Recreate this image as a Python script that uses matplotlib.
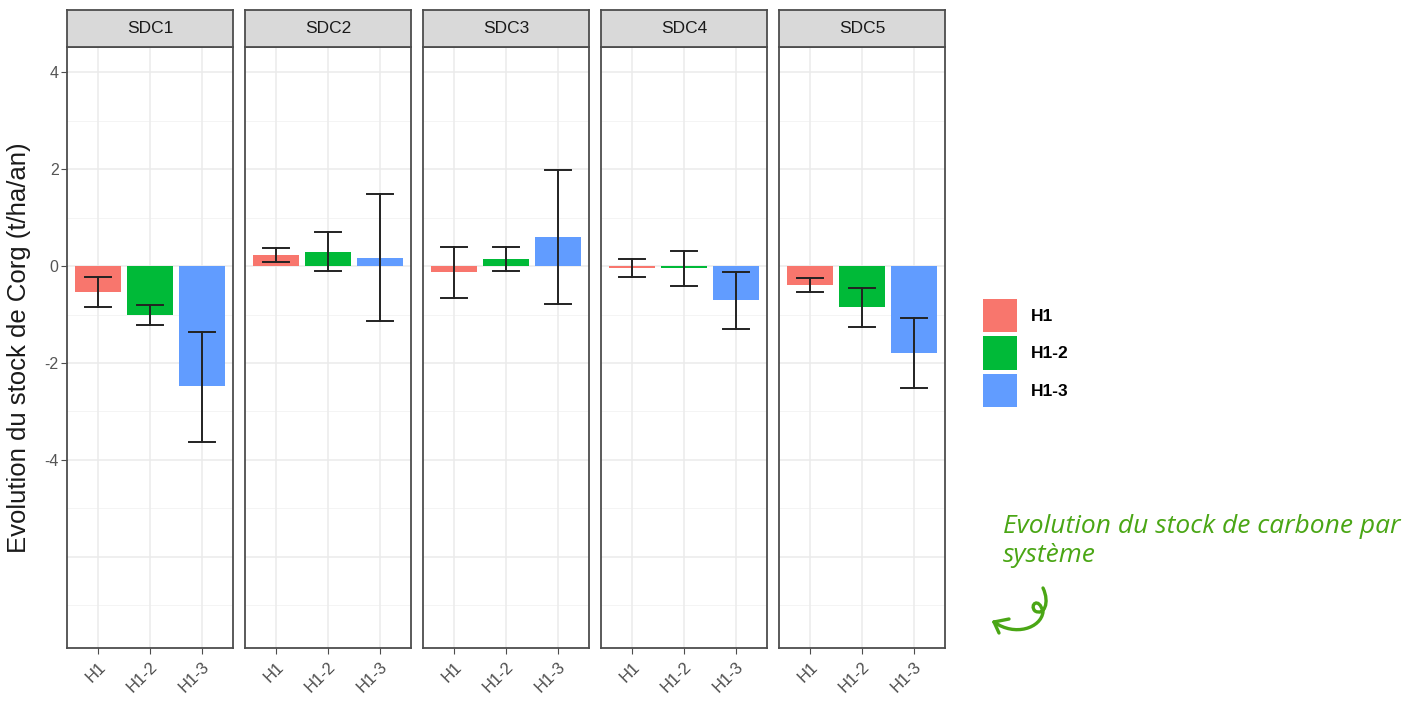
import matplotlib
matplotlib.use('Agg')
import matplotlib.pyplot as plt
from matplotlib.patches import Patch
from matplotlib.path import Path
import matplotlib.patches as mpatches

plt.rcParams['font.family'] = ['Liberation Sans', 'DejaVu Sans']
plt.rcParams['axes.unicode_minus'] = False

# donnees
systemes = ['SDC1', 'SDC2', 'SDC3', 'SDC4', 'SDC5']
horizons = ['H1', 'H1-2', 'H1-3']
couleurs = ['#F8766D', '#00BA38', '#619CFF']

moyennes = [
    [-0.53, -1.00, -2.48],
    [0.22, 0.29, 0.16],
    [-0.13, 0.14, 0.60],
    [-0.05, -0.04, -0.71],
    [-0.39, -0.84, -1.80],
]
err_haut = [
    [-0.22, -0.80, -1.35],
    [0.37, 0.70, 1.49],
    [0.39, 0.39, 1.99],
    [0.14, 0.31, -0.12],
    [-0.25, -0.45, -1.07],
]
err_bas = [
    [-0.84, -1.21, -3.62],
    [0.09, -0.10, -1.14],
    [-0.65, -0.10, -0.78],
    [-0.22, -0.41, -1.29],
    [-0.54, -1.25, -2.52],
]

W, H = 1421, 702
fig = plt.figure(figsize=(W / 100, H / 100), dpi=100)

def fx(px):
    return px / W

def fy(py):
    return 1 - py / H

panel_x = [67, 245, 423, 601, 779]
pw = 166
ptop, pbot = 47, 648
stop = 10

gris_bord = '#4d4d4d'
pos = [1, 2, 3]

for k, sdc in enumerate(systemes):
    ax = fig.add_axes([fx(panel_x[k]), fy(pbot), pw / W, (pbot - ptop) / H])
    ax.set_xlim(0.4, 3.6)
    ax.set_ylim(-7.88, 4.52)
    # grille facon ggplot
    for yy in [4, 2, 0, -2, -4, -6]:
        ax.axhline(yy, color='#ebebeb', lw=1.1, zorder=0)
    for yy in [3, 1, -1, -3, -5, -7]:
        ax.axhline(yy, color='#f3f3f3', lw=0.6, zorder=0)
    for xx in pos:
        ax.axvline(xx, color='#ebebeb', lw=1.1, zorder=0)
    ax.bar(pos, moyennes[k], width=0.9, color=couleurs, zorder=2)
    for i in range(3):
        ax.plot([pos[i], pos[i]], [err_bas[k][i], err_haut[k][i]], color='#222222', lw=1.4, zorder=3)
        ax.plot([pos[i] - 0.25, pos[i] + 0.25], [err_haut[k][i]] * 2, color='#222222', lw=1.4, zorder=3)
        ax.plot([pos[i] - 0.25, pos[i] + 0.25], [err_bas[k][i]] * 2, color='#222222', lw=1.4, zorder=3)
    for s in ax.spines.values():
        s.set_color(gris_bord)
        s.set_linewidth(1.3)
    ax.set_xticks(pos)
    ax.set_xticklabels(horizons, rotation=45, ha='right', va='top', rotation_mode='anchor',
                       fontsize=12, color='#4d4d4d')
    ax.tick_params(axis='x', length=4, color='#4d4d4d', pad=4)
    if k == 0:
        ax.set_yticks([4, 2, 0, -2, -4])
        ax.set_yticklabels(['4', '2', '0', '-2', '-4'], fontsize=11.5, color='#555555')
        ax.tick_params(axis='y', length=4, color='#4d4d4d', pad=2)
    else:
        ax.set_yticks([])

    # bandeau du facet
    st = fig.add_axes([fx(panel_x[k]), fy(ptop), pw / W, (ptop - stop) / H])
    st.set_facecolor('#d9d9d9')
    st.set_xticks([])
    st.set_yticks([])
    for s in st.spines.values():
        s.set_color(gris_bord)
        s.set_linewidth(1.3)
    st.text(0.5, 0.5, sdc, ha='center', va='center', fontsize=12.5, color='#1a1a1a',
            transform=st.transAxes)

fig.text(fx(19), fy(348), 'Evolution du stock de Corg (t/ha/an)', rotation=90,
         ha='center', va='center', fontsize=18.5, color='#1a1a1a')

handles = [Patch(facecolor=c, edgecolor='none') for c in couleurs]
fig.legend(handles, horizons, loc='center left', bbox_to_anchor=(fx(983), fy(353)),
           frameon=False, handlelength=1.97, handleheight=2.6,
           handletextpad=0.8, labelspacing=0.22, borderpad=0, borderaxespad=0,
           prop={'weight': 'bold', 'size': 12.5})

vert = '#4aa615'
fig.text(fx(1003), fy(533), 'Evolution du stock de carbone par', ha='left', va='baseline',
         fontsize=19, style='italic', color=vert, family=['Open Sans', 'DejaVu Sans'])
fig.text(fx(1003), fy(562), 'système', ha='left', va='baseline',
         fontsize=19, style='italic', color=vert, family=['Open Sans', 'DejaVu Sans'])

# petite fleche en boucle
verts = [(1043, 588), (1050, 603), (1044, 616), (1035, 611),
         (1029, 605), (1039, 596), (1043, 612), (1041, 628), (1015, 637), (994, 622)]
verts = [(fx(a), fy(b)) for a, b in verts]
codes = [Path.MOVETO] + [Path.CURVE4] * 9
chemin = Path(verts, codes)
fig.patches.append(mpatches.PathPatch(chemin, facecolor='none', edgecolor=vert, lw=2.4,
                                      transform=fig.transFigure, capstyle='round'))
fig.lines.append(plt.Line2D([fx(994), fx(1009)], [fy(622), fy(619)], color=vert, lw=2.4,
                            transform=fig.transFigure, solid_capstyle='round'))
fig.lines.append(plt.Line2D([fx(994), fx(999)], [fy(622), fy(633)], color=vert, lw=2.4,
                            transform=fig.transFigure, solid_capstyle='round'))

fig.savefig('out.png', dpi=100, facecolor='white')
